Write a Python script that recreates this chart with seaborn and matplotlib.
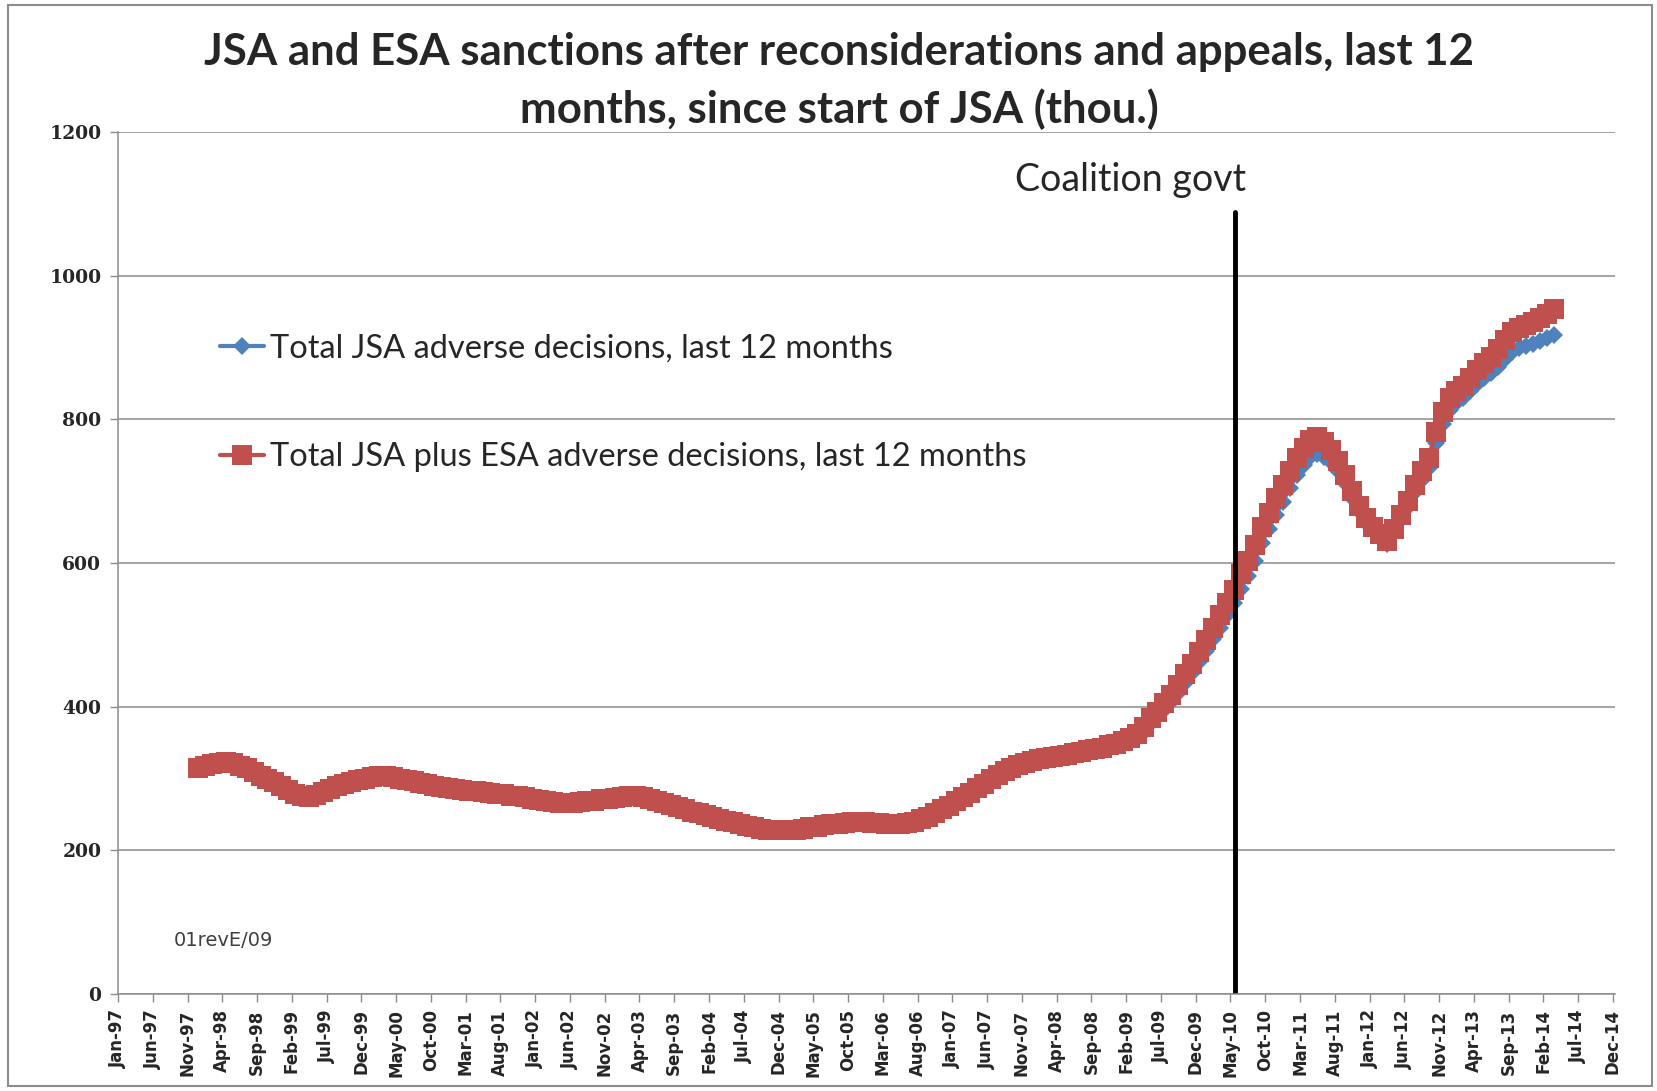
import numpy as np
import pandas as pd
import matplotlib
matplotlib.use("Agg")
import matplotlib.pyplot as plt
import seaborn as sns
from matplotlib.patches import Rectangle

# ---------------- data ----------------
first_month_index = 11          # Dec-97, months counted from Jan-97 = 0
# Total JSA plus ESA adverse decisions, last 12 months (thousands), Dec-97 .. Mar-14
jsa_plus_esa = [
    314,
    317, 320, 322, 323, 321, 318, 314, 309, 304, 299, 295, 290,   # 1998
    284, 278, 275, 274, 277, 281, 285, 289, 292, 295, 298, 300,   # 1999
    302, 304, 304, 302, 300, 298, 296, 294, 292, 290, 288, 287,   # 2000
    285, 284, 283, 282, 281, 280, 279, 278, 276, 275, 274, 272,   # 2001
    270, 268, 267, 266, 266, 266, 267, 268, 269, 271, 272, 273,   # 2002
    274, 275, 275, 274, 272, 269, 266, 263, 260, 257, 254, 252,   # 2003
    249, 247, 244, 241, 239, 236, 234, 232, 230, 229, 228, 228,   # 2004
    228, 229, 230, 232, 233, 235, 236, 237, 238, 239, 239, 239,   # 2005
    238, 238, 237, 237, 237, 238, 240, 243, 247, 252, 257, 262,   # 2006
    268, 274, 280, 287, 293, 299, 305, 310, 315, 319, 322, 325,   # 2007
    327, 329, 330, 331, 333, 335, 337, 339, 341, 343, 346, 348,   # 2008
    352, 356, 362, 371, 384, 393, 405, 416, 430, 445, 460, 476,   # 2009
    493, 510, 527, 545, 563, 584, 603, 625, 650, 670, 690, 709,   # 2010
    728, 746, 760, 771, 775, 768, 757, 742, 722, 700, 680, 662,   # 2011
    650, 640, 631, 648, 667, 686, 709, 728, 746, 783, 810, 830,   # 2012
    840, 847, 858, 868, 878, 887, 898, 911, 922, 927, 931, 935,   # 2013
    941, 947, 953,                                                # 2014
]
# Total JSA adverse decisions, last 12 months (thousands), Dec-97 .. Mar-14
jsa_only = [
    314,
    317, 320, 322, 323, 321, 318, 314, 309, 304, 299, 295, 290,   # 1998
    284, 278, 275, 274, 277, 281, 285, 289, 292, 295, 298, 300,   # 1999
    302, 304, 304, 302, 300, 298, 296, 294, 292, 290, 288, 287,   # 2000
    285, 284, 283, 282, 281, 280, 279, 278, 276, 275, 274, 272,   # 2001
    270, 268, 267, 266, 266, 266, 267, 268, 269, 271, 272, 273,   # 2002
    274, 275, 275, 274, 272, 269, 266, 263, 260, 257, 254, 252,   # 2003
    249, 247, 244, 241, 239, 236, 234, 232, 230, 229, 228, 228,   # 2004
    228, 229, 230, 232, 233, 235, 236, 237, 238, 239, 239, 239,   # 2005
    238, 238, 237, 237, 237, 238, 240, 243, 247, 252, 257, 262,   # 2006
    268, 274, 280, 287, 293, 299, 305, 310, 315, 319, 322, 325,   # 2007
    327, 329, 330, 331, 333, 335, 337, 339, 341, 342, 345, 346,   # 2008
    349, 352, 357, 365, 377, 385, 396, 406, 419, 433, 447, 462,   # 2009
    478, 494, 510, 527, 544, 564, 582, 603, 628, 647, 667, 685,   # 2010
    704, 722, 736, 747, 752, 748, 740, 728, 711, 691, 673, 656,   # 2011
    645, 635, 626, 643, 661, 678, 699, 716, 732, 767, 794, 813,   # 2012
    823, 830, 840, 849, 857, 864, 873, 884, 894, 899, 902, 905,   # 2013
    909, 913, 917,                                                # 2014
]
series_names = ["Total JSA adverse decisions, last 12 months",
                "Total JSA plus ESA adverse decisions, last 12 months"]

tick_labels = ["Jan-97", "Jun-97", "Nov-97", "Apr-98", "Sep-98", "Feb-99", "Jul-99",
               "Dec-99", "May-00", "Oct-00", "Mar-01", "Aug-01", "Jan-02", "Jun-02",
               "Nov-02", "Apr-03", "Sep-03", "Feb-04", "Jul-04", "Dec-04", "May-05",
               "Oct-05", "Mar-06", "Aug-06", "Jan-07", "Jun-07", "Nov-07", "Apr-08",
               "Sep-08", "Feb-09", "Jul-09", "Dec-09", "May-10", "Oct-10", "Mar-11",
               "Aug-11", "Jan-12", "Jun-12", "Nov-12", "Apr-13", "Sep-13", "Feb-14",
               "Jul-14", "Dec-14"]
tick_step_months = 5
y_ticks = [0, 200, 400, 600, 800, 1000, 1200]
coalition_month = 160.7   # May-10 (general election)
coalition_label = "Coalition govt"
title_text = "JSA and ESA sanctions after reconsiderations and appeals, last 12\nmonths, since start of JSA (thou.)"
note_text = "01revE/09"

# ---------------- build frame ----------------
month_pos = np.arange(first_month_index, first_month_index + len(jsa_plus_esa)) + 0.5
df = pd.DataFrame({"month": month_pos, "jsa": jsa_only, "jsa_esa": jsa_plus_esa})

# ---------------- figure ----------------
sns.set_theme(style="white")
plt.rcParams["font.family"] = ["DejaVu Sans"]

fig = plt.figure(figsize=(16.58, 10.91), dpi=100)
ax = fig.add_axes([118 / 1658, 1 - 994 / 1091, (1615 - 118) / 1658, (994 - 132) / 1091])

blue = "#4F81BD"
red = "#C0504D"

sns.lineplot(data=df, x="month", y="jsa", ax=ax, color=blue, linewidth=3,
             marker="D", markersize=9, markeredgewidth=0, label=series_names[0])
sns.lineplot(data=df, x="month", y="jsa_esa", ax=ax, color=red, linewidth=3,
             marker="s", markersize=14, markeredgewidth=0, label=series_names[1])

ax.set_xlim(0, (len(tick_labels) - 1) * tick_step_months + 0.3)
ax.set_ylim(y_ticks[0], y_ticks[-1])
ax.set_xticks(np.arange(len(tick_labels)) * tick_step_months)
ax.set_xticklabels(tick_labels, rotation=90, fontsize=12, fontweight="bold",
                   family="DejaVu Sans")
ax.set_yticks(y_ticks)
ax.set_yticklabels([str(v) for v in y_ticks], fontsize=13.5, fontweight="bold",
                   family="DejaVu Serif")
ax.set_xlabel("")
ax.set_ylabel("")

ax.grid(axis="y", color="#8c8c8c", linewidth=1.1)
ax.grid(axis="x", visible=False)
for s in ["top", "right"]:
    ax.spines[s].set_visible(False)
for s in ["left", "bottom"]:
    ax.spines[s].set_color("#8c8c8c")
    ax.spines[s].set_linewidth(1.1)
ax.tick_params(axis="both", which="major", direction="out", length=6, width=1,
               color="#8c8c8c", bottom=True, left=True)
ax.tick_params(axis="y", pad=6)
ax.tick_params(axis="x", pad=5)

# coalition line
ax.axvline(coalition_month, ymin=0, ymax=(994 - 212) / 862, color="black", linewidth=3.5)
ax.annotate(coalition_label, xy=(coalition_month, 1200), xycoords="data",
            xytext=(1131 / 1658, 1 - 180 / 1091), textcoords="figure fraction",
            ha="center", va="center", fontsize=27, family="Lato")

# legend
leg = ax.legend(loc="upper left", bbox_to_anchor=((207 - 118) / 1497, (994 - 320) / 862),
                frameon=False, fontsize=23.5, labelspacing=2.43, handlelength=1.35,
                handletextpad=0.18, borderaxespad=0)
for t in leg.get_texts():
    t.set_family("Lato")

ax.text((174 - 118) / 1497, (994 - 940) / 862, note_text, transform=ax.transAxes,
        fontsize=14, color="#404040", va="center", ha="left", family="DejaVu Sans")

fig.text(839 / 1658, 1 - 81 / 1091, title_text, ha="center", va="center",
         fontsize=31.5, fontweight="bold", family="Lato", linespacing=1.45)

# chart-area border
fig.patches.append(Rectangle((8 / 1658, 1 - 1086 / 1091), (1652 - 8) / 1658, (1086 - 5) / 1091,
                             transform=fig.transFigure, fill=False, edgecolor="#8c8c8c",
                             linewidth=1.5))

fig.savefig("out.png", dpi=100)
